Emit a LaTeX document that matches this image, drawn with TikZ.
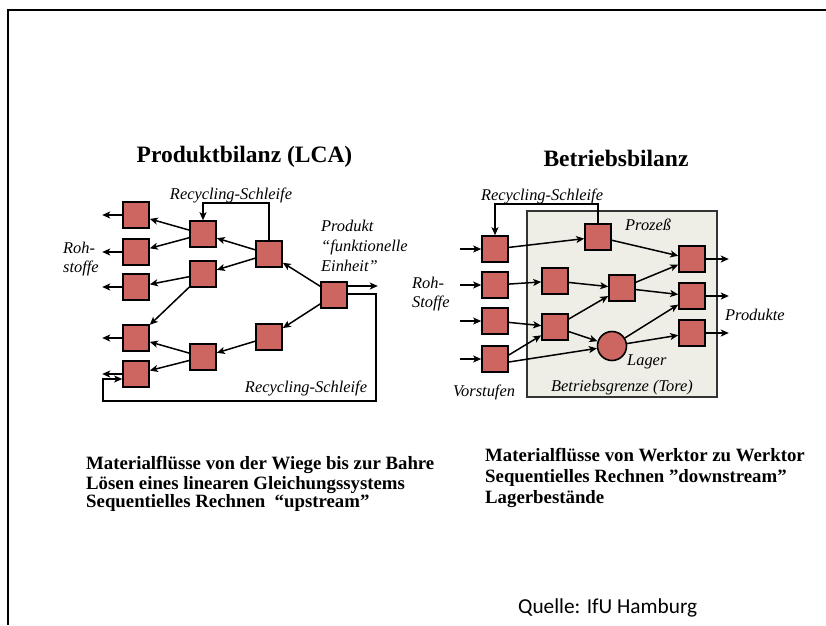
\documentclass[tikz,border=0pt]{standalone}
\usepackage{fontspec}
\setmainfont{Liberation Serif}
\newfontfamily\quellefont{Carlito}
\usetikzlibrary{arrows.meta}
\definecolor{boxred}{HTML}{CD6660}
\definecolor{plantfill}{HTML}{EEEEE6}
\definecolor{plantline}{HTML}{333333}
\begin{document}
\begin{tikzpicture}[x=1pt,y=-1pt,
  unit/.style={draw=black, fill=boxred, minimum size=26pt, inner sep=0pt, line width=1.6pt},
  store/.style={circle, draw=black, fill=boxred, minimum size=29pt, inner sep=0pt, line width=1.6pt},
  flow/.style={-{Stealth[length=8pt,width=7pt,inset=2pt]}, line width=1.5pt},
  heading/.style={font=\fontsize{23.5}{26}\selectfont\bfseries, inner sep=0pt},
  lbl/.style={font=\fontsize{16.4}{19}\selectfont\itshape, inner sep=0pt},
  note/.style={font=\fontsize{18.8}{20}\selectfont\bfseries, inner sep=0pt, anchor=base west},
]
\useasboundingbox (0,0) rectangle (826,625);

% outer frame
\coordinate (fa) at (8,625);
\coordinate (fb) at (8,10);
\coordinate (fc) at (826,10);
\draw[line width=2pt] (fa) -- (fb) -- (fc);

% ---------------- Produktbilanz (LCA) ----------------
\node[heading] (t1) at (244.5,157) {Produktbilanz (LCA)};

\node[unit] (L1) at (136,215) {};
\node[unit] (L2) at (136,252) {};
\node[unit] (L3) at (136,287) {};
\node[unit] (L4) at (136,338) {};
\node[unit] (L5) at (136,374) {};
\node[unit] (M1) at (203,234) {};
\node[unit] (M2) at (203,274) {};
\node[unit] (M3) at (203,357) {};
\node[unit] (R1) at (269,254) {};
\node[unit] (R2) at (269,337) {};
\node[unit] (P)  at (334,295) {};

\foreach \n in {L1,L2,L3,L4,L5}
  \draw[flow] (\n.west) -- ++(-20,0);

\draw[flow] (M1) -- (L1);
\draw[flow] (M1) -- (L2);
\draw[flow] (M2) -- (L3);
\draw[flow] (M2) -- (L4);
\draw[flow] (M3) -- (L4);
\draw[flow] (M3) -- (L5);
\draw[flow] (R1) -- (M1);
\draw[flow] (R1) -- (M2);
\draw[flow] (R2) -- (M3);
\draw[flow] (P) -- (R1);
\draw[flow] (P) -- (R2);
\draw[flow] ([yshift=9pt]P.east) -- ++(30,0);

% upper recycling loop
\draw[flow] (R1.north) -- ++(0,-37) -| (M1.north);
% lower recycling loop
\coordinate (q1) at (376,401);
\coordinate (q2) at (103,379);
\draw[flow] ([yshift=1pt]P.east) -| (q1) -| (q2) -- ([yshift=-5pt]L5.west);

\node[lbl] (rs1) at (231,195) {Recycling-Schleife};
\node[lbl] (rs2) at (306,388) {Recycling-Schleife};
\node[lbl, anchor=west, align=left] (roh1) at (63,259) {Roh-\\stoffe};
\node[lbl, anchor=west, align=left, font=\fontsize{16.4}{20}\selectfont\itshape] (prod) at (321,246) {Produkt\\“funktionelle\\Einheit”};

% ---------------- Betriebsbilanz ----------------
\node[heading] (t2) at (616,158) {Betriebsbilanz};

\node[draw=plantline, fill=plantfill, line width=1.7pt, minimum width=190pt, minimum height=186pt, inner sep=0pt] (plant) at (622,304) {};

\node[unit] (A1) at (495,249) {};
\node[unit] (A2) at (495,285) {};
\node[unit] (A3) at (495,321) {};
\node[unit] (A4) at (495,359) {};
\node[unit] (B)  at (598,237) {};
\node[unit] (C1) at (555,281) {};
\node[unit] (C2) at (555,327) {};
\node[unit] (D)  at (622,288) {};
\node[store] (S) at (612,346) {};
\node[unit] (E1) at (692,259) {};
\node[unit] (E2) at (692,296) {};
\node[unit] (E3) at (692,333) {};

\foreach \n in {A1,A2,A3,A4}
  \draw[flow] ([xshift=-21pt]\n.west) -- (\n.west);
\foreach \n in {E1,E2,E3}
  \draw[flow] (\n.east) -- ++(23,0);

\draw[flow] (A1) -- (B);
\draw[flow] (A2) -- (C1);
\draw[flow] (A3) -- (C2);
\draw[flow] ([yshift=4pt]A4.east) -- (C2);
\draw[flow] ([yshift=-3pt]A4.east) -- (S);
\draw[flow] (B) -- (E1);
\draw[flow] (C1) -- (D);
\draw[flow] (C2) -- (D);
\draw[flow] (C2) -- (S);
\draw[flow] (D) -- (E1);
\draw[flow] (D) -- (E2);
\draw[flow] (S) -- (E2);
\draw[flow] (S) -- (E3);

% recycling loop
\draw[flow] (B.north) -- ++(0,-19) -| (A1.north);

\node[lbl] (rs3) at (542,196) {Recycling-Schleife};
\node[lbl, anchor=west] (proz) at (625,225) {Prozeß};
\node[lbl, anchor=west] (lag) at (627,362) {Lager};
\node[lbl, anchor=west] (prk) at (725,315) {Produkte};
\node[lbl, anchor=west, align=left] (roh2) at (412,294) {Roh-\\Stoffe};
\node[lbl] (vor) at (484,392) {Vorstufen};
\node[lbl] (grz) at (622,388) {Betriebsgrenze (Tore)};

% ---------------- notes ----------------
\node[note] (n1) at (86,469) {Materialflüsse von der Wiege bis zur Bahre};
\node[note] (n2) at (86,489) {Lösen eines linearen Gleichungssystems};
\node[note] (n3) at (86,507) {Sequentielles Rechnen\ \ “upstream”};

\node[note] (n4) at (485,461) {Materialflüsse von Werktor zu Werktor};
\node[note] (n5) at (485,482) {Sequentielles Rechnen ”downstream”};
\node[note] (n6) at (485,503) {Lagerbestände};

\node[font=\fontsize{21.3}{24}\quellefont, inner sep=0pt, anchor=base west] (src) at (518,613) {Quelle: IfU Hamburg};
\end{tikzpicture}
\end{document}
